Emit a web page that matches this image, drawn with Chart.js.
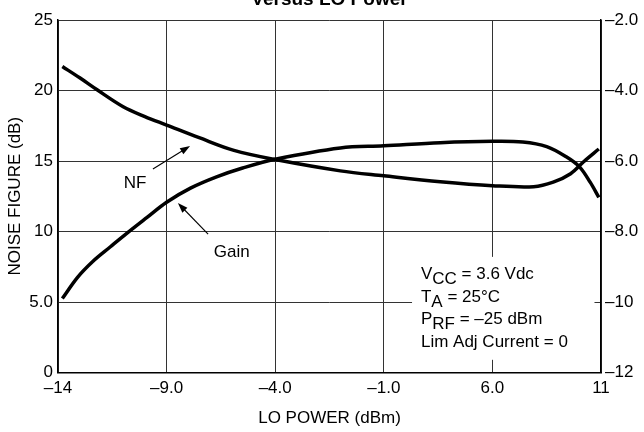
<!DOCTYPE html>
<html>
<head>
<meta charset="utf-8">
<script src="https://cdn.jsdelivr.net/npm/chart.js@4.4.0/dist/chart.umd.min.js"></script>
<style>
html,body{margin:0;padding:0;background:#fff;}
#wrap{width:644px;height:432px;position:relative;}
</style>
</head>
<body>
<div id="wrap"><canvas id="c" width="644" height="432"></canvas></div>
<script>
// ---- data ----
const xTickValues = [-14, -9, -4, 1, 6, 11];
const xTickLabels = ['\u201314', '\u20139.0', '\u20134.0', '\u20131.0', '6.0', '11'];
const leftTickLabels = {0:'0', 5:'5.0', 10:'10', 15:'15', 20:'20', 25:'25'};
const rightTickLabels = {'-2':'\u20132.0', '-4':'\u20134.0', '-6':'\u20136.0', '-8':'\u20138.0', '-10':'\u201310', '-12':'\u201312'};

const nfLoPower = [-13.8, -13.0, -12.2, -11.0, -10.0, -9.0, -7.5, -5.9, -4.0, -1.0, 1.0, 3.6, 6.0, 7.9, 8.8, 9.6, 10.2, 10.9];
const nfValues  = [21.7, 20.9, 20.05, 18.85, 18.15, 17.55, 16.65, 15.75, 15.1, 14.3, 13.95, 13.53, 13.25, 13.18, 13.5, 14.1, 14.95, 15.85];

const gainLoPower = [-13.8, -13.1, -12.4, -11.6, -10.85, -9.9, -9.0, -7.9, -6.7, -5.5, -4.0, -1.0, 1.0, 3.6, 6.0, 7.4, 8.5, 9.4, 10.0, 10.5, 10.9];
const gainValues  = [-9.9, -9.3, -8.85, -8.44, -8.06, -7.6, -7.17, -6.77, -6.45, -6.2, -5.95, -5.63, -5.57, -5.48, -5.44, -5.46, -5.59, -5.88, -6.16, -6.6, -7.03];

const FONT = '"Liberation Sans", Arial, sans-serif';

const toXY = (xs, ys) => xs.map((x, i) => ({x: x, y: ys[i]}));

const annot = {
  id: 'annot',
  beforeDatasetsDraw(chart) {
    const ctx = chart.ctx;
    const xs = chart.scales.x, yl = chart.scales.y;
    const x0 = xs.getPixelForValue(2.3), x1 = xs.getPixelForValue(10.7);
    const y0 = yl.getPixelForValue(8.2), y1 = yl.getPixelForValue(0.9);
    ctx.save();
    ctx.fillStyle = '#fff';
    ctx.fillRect(x0, y0, x1 - x0, y1 - y0);
    ctx.restore();
  },
  afterDraw(chart) {
    const ctx = chart.ctx;
    const xs = chart.scales.x, yl = chart.scales.y;
    const px = v => xs.getPixelForValue(v), py = v => yl.getPixelForValue(v);
    ctx.save();
    ctx.fillStyle = '#000';
    ctx.strokeStyle = '#000';
    ctx.font = 'bold 19px ' + FONT;
    ctx.textAlign = 'center';
    ctx.textBaseline = 'alphabetic';
    ctx.fillText('Versus LO Power', (chart.chartArea.left + chart.chartArea.right) / 2, 5);

    ctx.font = '17px ' + FONT;
    ctx.textBaseline = 'middle';
    ctx.fillText('NF', px(-10.45), py(13.44));
    ctx.fillText('Gain', px(-6.0), py(8.55));

    function arrow(xa, ya, xb, yb) {
      const ax = px(xa), ay = py(ya), bx = px(xb), by = py(yb);
      const ang = Math.atan2(by - ay, bx - ax);
      const L = 10, W = 3.5;
      ctx.lineWidth = 1.1;
      ctx.beginPath();
      ctx.moveTo(ax, ay);
      ctx.lineTo(bx - Math.cos(ang) * L * 0.8, by - Math.sin(ang) * L * 0.8);
      ctx.stroke();
      ctx.beginPath();
      ctx.moveTo(bx, by);
      ctx.lineTo(bx - Math.cos(ang) * L + Math.sin(ang) * W, by - Math.sin(ang) * L - Math.cos(ang) * W);
      ctx.lineTo(bx - Math.cos(ang) * L - Math.sin(ang) * W, by - Math.sin(ang) * L + Math.cos(ang) * W);
      ctx.closePath();
      ctx.fill();
    }
    arrow(-9.63, 14.43, -7.92, 16.06);
    arrow(-7.09, 9.82, -8.48, 12.02);

    ctx.textAlign = 'left';
    ctx.textBaseline = 'alphabetic';
    const tx = px(2.71);
    const lines = [
      ['V', 'CC', ' = 3.6 Vdc'],
      ['T', 'A', ' = 25\u00B0C'],
      ['P', 'RF', ' = \u201325 dBm'],
      ['Lim Adj Current = 0', '', '']
    ];
    const baseY = 279, step = 22.5;
    ctx.font = '17px ' + FONT;
    lines.forEach((ln, i) => {
      const by = baseY + i * step;
      let cx = tx;
      ctx.fillText(ln[0], cx, by);
      cx += ctx.measureText(ln[0]).width;
      if (ln[1]) {
        ctx.fillText(ln[1], cx, by + 5);
        cx += ctx.measureText(ln[1]).width;
      }
      if (ln[2]) ctx.fillText(ln[2], cx, by);
    });
    ctx.restore();
  }
};

new Chart(document.getElementById('c'), {
  type: 'line',
  data: {
    datasets: [
      {
        label: 'NF',
        data: toXY(nfLoPower, nfValues),
        yAxisID: 'y',
        borderColor: '#000',
        borderWidth: 3.5,
        pointRadius: 0,
        tension: 0.35,
        fill: false
      },
      {
        label: 'Gain',
        data: toXY(gainLoPower, gainValues),
        yAxisID: 'y2',
        borderColor: '#000',
        borderWidth: 3.5,
        pointRadius: 0,
        tension: 0.35,
        fill: false
      }
    ]
  },
  options: {
    responsive: false,
    animation: false,
    layout: {padding: {top: 20, left: 0, right: 0, bottom: 0}},
    plugins: {legend: {display: false}, tooltip: {enabled: false}, title: {display: false}},
    scales: {
      x: {
        type: 'linear',
        min: -14, max: 11,
        afterFit(s) { s.height = 59.5; },
        afterBuildTicks(s) { s.ticks = xTickValues.map(v => ({value: v})); },
        ticks: {
          color: '#000',
          font: {family: FONT, size: 17},
          padding: 6,
          maxRotation: 0,
          autoSkip: false,
          callback: (v) => { const i = xTickValues.indexOf(v); return i >= 0 ? xTickLabels[i] : ''; }
        },
        grid: {color: '#333', lineWidth: 1, drawTicks: false},
        border: {color: '#000', width: 1.5},
        title: {display: true, text: 'LO POWER (dBm)', color: '#000', font: {family: FONT, size: 17}, padding: {top: 0, bottom: 3}}
      },
      y: {
        type: 'linear',
        position: 'left',
        min: 0, max: 25,
        afterFit(s) { s.width = 58; },
        ticks: {
          stepSize: 5,
          color: '#000',
          font: {family: FONT, size: 17},
          padding: 5,
          callback: (v) => leftTickLabels[v] !== undefined ? leftTickLabels[v] : ''
        },
        grid: {color: '#333', lineWidth: 1, drawTicks: false},
        border: {color: '#000', width: 1.5},
        title: {display: true, text: 'NOISE FIGURE (dB)', color: '#000', font: {family: FONT, size: 17}, padding: {top: 5, bottom: 0}}
      },
      y2: {
        type: 'linear',
        position: 'right',
        min: -12, max: -2,
        afterFit(s) { s.width = 43; },
        ticks: {
          stepSize: 2,
          color: '#000',
          font: {family: FONT, size: 17},
          padding: 4,
          callback: (v) => rightTickLabels[String(v)] !== undefined ? rightTickLabels[String(v)] : ''
        },
        grid: {display: false, drawTicks: false},
        border: {color: '#000', width: 1.5}
      }
    }
  },
  plugins: [annot]
});
</script>
</body>
</html>
